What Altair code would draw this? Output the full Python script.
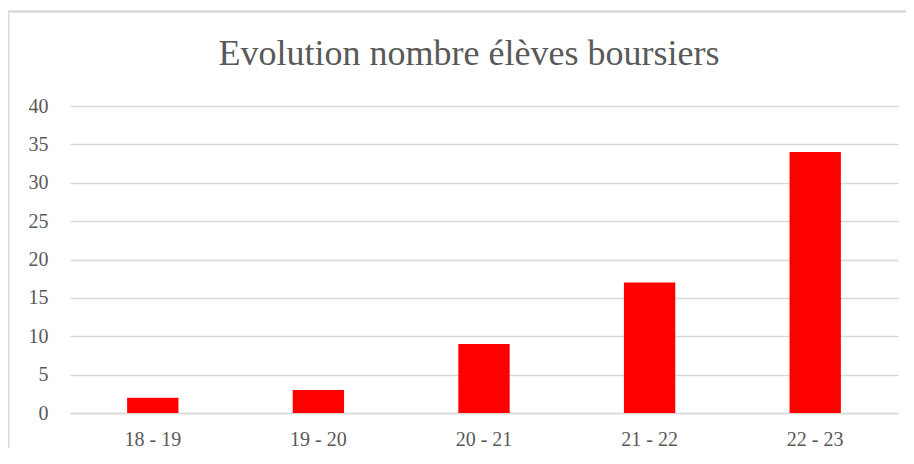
import altair as alt
import pandas as pd

categories = ["18 - 19", "19 - 20", "20 - 21", "21 - 22", "22 - 23"]
values = [2, 3, 9, 17, 34]
title_text = "Evolution nombre élèves boursiers"

df = pd.DataFrame({"annee": categories, "nombre": values})

W, H = 828, 307
FONT = "Liberation Serif"
GREY = "#595959"

bars = alt.Chart(df).mark_bar(color="#FF0000").encode(
    x=alt.X("annee:N", sort=categories, title=None,
            scale=alt.Scale(paddingInner=0.69, paddingOuter=0.345),
            axis=alt.Axis(labelAngle=0, labelFont=FONT, labelFontSize=20,
                          labelColor=GREY, ticks=False, domain=True,
                          domainColor="#d9d9d9", domainWidth=1.5, labelPadding=16)),
    y=alt.Y("nombre:Q", title=None,
            scale=alt.Scale(domain=[0, 40], nice=False),
            axis=alt.Axis(values=list(range(0, 45, 5)), labelFont=FONT, labelFontSize=20,
                          labelColor=GREY, ticks=False, domain=False,
                          gridColor="#d9d9d9", gridWidth=1.3, labelPadding=22)),
)

border = alt.Chart(df).mark_rect(fill=None, stroke="#d9d9d9", strokeWidth=1.3, clip=False).encode(
    x=alt.value(-61.5), x2=alt.value(W + 40), y=alt.value(-94.5), y2=alt.value(H + 80)
)

chart = alt.layer(bars, border).properties(
    width=W, height=H,
    title=alt.TitleParams(title_text, font=FONT, fontSize=36, fontWeight="normal",
                          color=GREY, anchor="middle", offset=-62, dx=-15),
    padding={"left": 62, "top": 98, "right": 8, "bottom": 35},
    autosize=alt.AutoSizeParams(type="none"),
).configure_view(stroke=None)

chart.save("out.html", embed_options={"renderer": "svg", "actions": False})
